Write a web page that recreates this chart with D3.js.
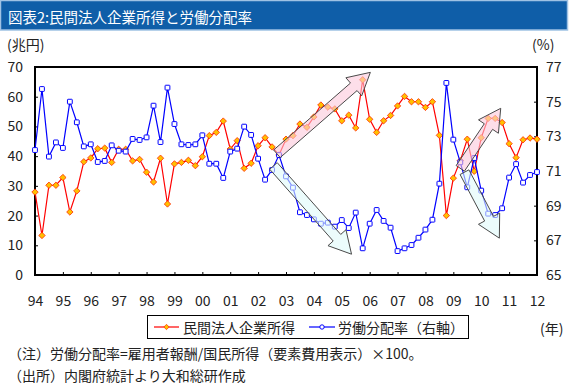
<!DOCTYPE html>
<html><head><meta charset="utf-8">
<script src="https://cdn.jsdelivr.net/npm/d3@7"></script>
<style>
body{margin:0;background:#fff;}
text{font-family:"Noto Sans CJK JP","Noto Sans",sans-serif;}
</style></head>
<body><svg id="c" width="572" height="387"></svg>
<script>
// ---- data ----
const yearLabels = ["94","95","96","97","98","99","00","01","02","03","04","05","06","07","08","09","10","11","12"];
const years = d3.range(1994, 2013);
const quarters = years.flatMap(y => ["Q1","Q2","Q3","Q4"].map(q => y + q)).slice(0, 73);
// 民間法人企業所得 (兆円, left axis)
const corpIncome = [27.9,13.3,30.2,30.2,32.8,21.2,28.3,38.1,39.4,42.5,42.7,37.9,42.3,42.3,38.4,38.9,
  34.6,31.3,39.3,23.9,37.4,37.9,38.6,36.8,39.8,46.9,48.0,51.8,42.4,45.2,35.9,37.6,
  43.5,46.2,43.1,40.4,45.7,46.9,50.8,49.7,53.2,57.2,56.5,55.9,51.9,53.8,49.5,65.7,
  52.4,48.0,51.9,53.7,56.9,60.1,58.3,58.3,56.4,58.3,47.0,20.0,32.6,38.5,45.7,34.9,
  46.2,52.7,52.7,51.3,44.2,39.5,45.5,46.1,45.7];
// 労働分配率 (%, right axis)
const laborShare = [72.21,75.73,71.83,72.65,72.33,75.0,73.81,72.42,72.54,71.52,71.58,72.48,72.17,72.12,72.85,72.79,
  72.94,74.77,72.67,75.81,73.71,72.54,72.5,72.54,73.06,71.42,71.42,70.6,72.12,72.29,73.56,73.08,
  71.71,70.5,71.06,71.92,70.69,70.04,68.62,68.46,68.21,67.96,68.02,67.79,68.17,67.71,68.6,66.54,
  67.96,68.75,68.12,67.73,66.38,66.54,66.73,67.15,67.62,68.19,70.27,76.08,72.81,71.5,70.06,71.75,
  69.87,68.54,68.46,68.85,70.62,71.4,70.33,70.77,70.94];
const leftTicks = [0,10,20,30,40,50,60,70];
const rightTicks = [65,67,69,71,73,75,77];
const seriesNames = ["民間法人企業所得","労働分配率（右軸）"];
// annotation arrows: [tail quarter index, tail value(left axis), tip index, tip value]
const arrowDefs = [
  {kind:"up",   from:[34.7,40.8], to:[48.1,68.2]},
  {kind:"down", from:[34.2,36.7], to:[45.4,7.0]},
  {kind:"up",   from:[61.0,35.9], to:[66.8,56.1]},
  {kind:"down", from:[61.6,34.6], to:[66.6,12.4]}
];

// ---- layout ----
const svg = d3.select("#c");
const L = 35, R = 537, T = 67, B = 275;
const x = d3.scalePoint().domain(quarters).range([L, R]).padding(0);
const xi = d3.scaleLinear().domain([0, quarters.length - 1]).range([L, R]);
const yL = d3.scaleLinear().domain([0, 70]).range([B, T]);
const yR = d3.scaleLinear().domain([65, 77]).range([B, T]);
const txt = "#222";

// title bar
svg.append("rect").attr("x",0.5).attr("y",0.5).attr("width",567).attr("height",29.5)
  .attr("fill","#0f5ea8").attr("stroke","#9fc2e4").attr("stroke-width",1.5);
svg.append("text").attr("x",8).attr("y",16).attr("dominant-baseline","central")
  .attr("fill","#fff").attr("font-size",14.5).text("図表2:民間法人企業所得と労働分配率");

svg.append("text").attr("x",7).attr("y",44).attr("dominant-baseline","central")
  .attr("fill",txt).attr("font-size",14).text("(兆円)");
svg.append("text").attr("x",532).attr("y",44).attr("dominant-baseline","central")
  .attr("fill",txt).attr("font-size",14).text("(%)");

// axes
const ax = svg.append("g").attr("transform",`translate(0,${B})`)
  .call(d3.axisBottom(x).tickValues(quarters.filter(q => q.endsWith("Q1")))
    .tickFormat(q => yearLabels[years.indexOf(+q.slice(0,4))]).tickSize(-3).tickPadding(21));
const al = svg.append("g").attr("transform",`translate(${L},0)`)
  .call(d3.axisLeft(yL).tickValues(leftTicks).tickSize(-3).tickPadding(12));
const ar = svg.append("g").attr("transform",`translate(${R},0)`)
  .call(d3.axisRight(yR).tickValues(rightTicks).tickSize(-3).tickPadding(9));
[ax,al,ar].forEach(g => {
  g.select(".domain").remove();
  g.selectAll(".tick line").attr("stroke","#000").attr("stroke-width",1);
  g.selectAll(".tick text").attr("fill",txt).attr("font-size",14)
    .attr("font-family",'"Noto Sans CJK JP","Noto Sans",sans-serif');
});

// frame
svg.append("rect").attr("x",L).attr("y",T).attr("width",R-L).attr("height",B-T)
  .attr("fill","none").attr("stroke","#000").attr("stroke-width",2);

// series
const redLine = d3.line().x((d,i)=>x(quarters[i])).y(d=>yL(d));
const blueLine = d3.line().x((d,i)=>x(quarters[i])).y(d=>yR(d));
svg.append("path").attr("d",redLine(corpIncome)).attr("fill","none").attr("stroke","#ff0000").attr("stroke-width",1.2);
const diamond = d3.symbol().type(d3.symbolDiamond2).size(26);
svg.append("g").selectAll("path").data(corpIncome).join("path")
  .attr("d",diamond).attr("transform",(d,i)=>`translate(${x(quarters[i])},${yL(d)})`)
  .attr("fill","#ffc000").attr("stroke","#ff2a00").attr("stroke-width",0.8);

svg.append("path").attr("d",blueLine(laborShare)).attr("fill","none").attr("stroke","#0000ff").attr("stroke-width",1.2);
svg.append("g").selectAll("rect").data(laborShare).join("rect")
  .attr("x",(d,i)=>x(quarters[i])-2.4).attr("y",d=>yR(d)-2.4)
  .attr("width",4.8).attr("height",4.8).attr("rx",0.6)
  .attr("fill","#fff").attr("stroke","#0000ff").attr("stroke-width",1);

// arrows
function arrowPath(x0,y0,x1,y1,sw,hw,hl){
  const dx=x1-x0, dy=y1-y0, len=Math.hypot(dx,dy), ux=dx/len, uy=dy/len, px=-uy, py=ux;
  const bx=x1-ux*hl, by=y1-uy*hl;
  const p=[[x0+px*sw,y0+py*sw],[bx+px*sw,by+py*sw],[bx+px*hw,by+py*hw],[x1,y1],
           [bx-px*hw,by-py*hw],[bx-px*sw,by-py*sw],[x0-px*sw,y0-py*sw]];
  return "M"+p.map(q=>q.join(",")).join("L")+"Z";
}
svg.append("g").selectAll("path").data(arrowDefs).join("path")
  .attr("d",d=>arrowPath(xi(d.from[0]),yL(d.from[1]),xi(d.to[0]),yL(d.to[1]),5,12,22))
  .attr("fill",d=>d.kind==="up"?"#fbc8da":"#dffafa").attr("fill-opacity",0.6)
  .attr("stroke","#4a4a4a").attr("stroke-width",1);

// legend
svg.append("rect").attr("x",147.5).attr("y",315.5).attr("width",321).attr("height",23)
  .attr("fill","#fff").attr("stroke","#000").attr("stroke-width",1);
svg.append("line").attr("x1",154).attr("x2",179).attr("y1",327).attr("y2",327).attr("stroke","#ff0000").attr("stroke-width",1.2);
svg.append("path").attr("d",d3.symbol().type(d3.symbolDiamond2).size(18)).attr("transform","translate(166.5,327)")
  .attr("fill","#ffc000").attr("stroke","#ff2a00").attr("stroke-width",0.7);
svg.append("text").attr("x",183).attr("y",327).attr("dominant-baseline","central").attr("fill",txt).attr("font-size",14).text(seriesNames[0]);
svg.append("line").attr("x1",309).attr("x2",335).attr("y1",327).attr("y2",327).attr("stroke","#0000ff").attr("stroke-width",1.2);
svg.append("circle").attr("cx",322).attr("cy",327).attr("r",2.2).attr("fill","#fff").attr("stroke","#0000ff").attr("stroke-width",1);
svg.append("text").attr("x",338).attr("y",327).attr("dominant-baseline","central").attr("fill",txt).attr("font-size",14).text(seriesNames[1]);

svg.append("text").attr("x",540).attr("y",328).attr("dominant-baseline","central").attr("fill",txt).attr("font-size",14).text("(年)");

// notes
svg.append("text").attr("x",8).attr("y",353).attr("dominant-baseline","central").attr("fill",txt).attr("font-size",14)
  .text("（注）労働分配率=雇用者報酬/国民所得（要素費用表示）×100。");
svg.append("text").attr("x",8).attr("y",375).attr("dominant-baseline","central").attr("fill",txt).attr("font-size",14)
  .text("（出所）内閣府統計より大和総研作成");
</script></body></html>
